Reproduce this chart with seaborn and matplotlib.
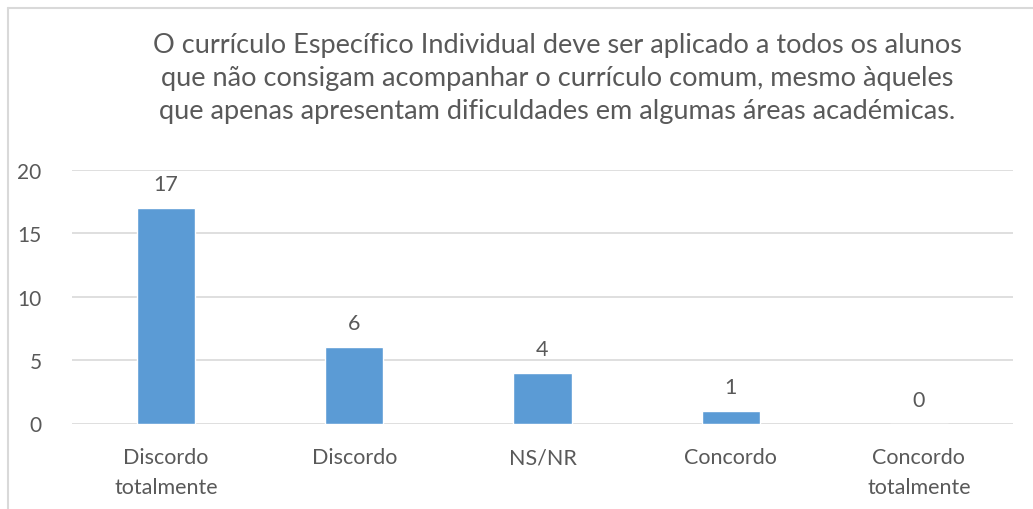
import matplotlib
matplotlib.use("Agg")
import matplotlib.pyplot as plt
import seaborn as sns
import pandas as pd
from matplotlib.lines import Line2D

categories = ["Discordo\ntotalmente", "Discordo", "NS/NR", "Concordo", "Concordo\ntotalmente"]
values = [17, 6, 4, 1, 0]
yticks = [0, 5, 10, 15, 20]
title = ("O currículo Específico Individual deve ser aplicado a todos os alunos\n"
         "que não consigam acompanhar o currículo comum, mesmo àqueles\n"
         "que apenas apresentam dificuldades em algumas áreas académicas.")

sns.set_theme(style="white")
plt.rcParams['font.family'] = ['Lato', 'DejaVu Sans']
TXT = "#595959"
GRID = "#D9D9D9"
BAR = "#5B9BD5"

df = pd.DataFrame({"cat": categories, "val": values})

fig = plt.figure(figsize=(10.33, 5.10), dpi=100)
ax = fig.add_axes([72/1033, 1 - 424.5/510, (1013-72)/1033, (424.5-170.7)/510])
sns.barplot(data=df, x="cat", y="val", color=BAR, width=0.31, ax=ax, saturation=1)
ax.set_ylim(0, 20)
ax.set_xlim(-0.5, 4.5)
ax.set_yticks(yticks)
ax.yaxis.grid(True, color=GRID, linewidth=1.2)
ax.set_axisbelow(True)
for s in ax.spines.values():
    s.set_visible(False)
ax.set_xlabel("")
ax.set_ylabel("")
ax.tick_params(axis='y', length=0, pad=22, labelsize=15, labelcolor=TXT)
ax.tick_params(axis='x', length=0, pad=17, labelsize=15.5, labelcolor=TXT)
for lbl in ax.get_xticklabels():
    lbl.set_linespacing(1.6)
for c in ax.containers:
    ax.bar_label(c, labels=[str(v) for v in values], padding=10, fontsize=15.5, color=TXT)

fig.text(557/1033, 1 - 78.5/510, title, ha='center', va='center', fontsize=19.5,
         color=TXT, linespacing=1.42)

fig.add_artist(Line2D([7.5/1033, 7.5/1033], [0, 1 - 9/510], color=GRID, linewidth=1.5, transform=fig.transFigure))
fig.add_artist(Line2D([7.5/1033, 1], [1 - 9/510, 1 - 9/510], color=GRID, linewidth=1.5, transform=fig.transFigure))

fig.savefig("out.png", dpi=100)
